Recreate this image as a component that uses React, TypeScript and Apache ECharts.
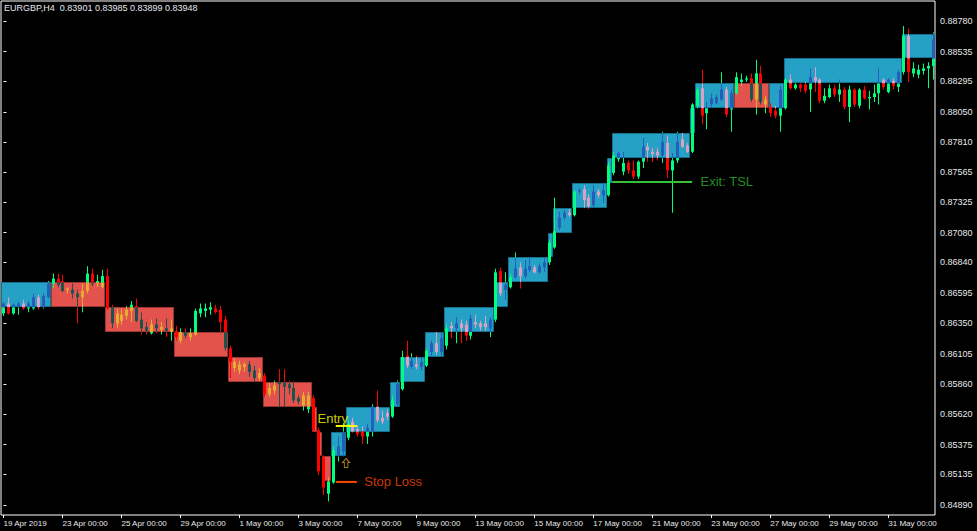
import React, { useEffect, useRef } from "react";
import * as echarts from "echarts";

const chartTitle = "EURGBP,H4  0.83901 0.83985 0.83899 0.83948";

const dateLabels = [
  "19 Apr 2019", "23 Apr 00:00", "25 Apr 00:00", "29 Apr 00:00", "1 May 00:00", "3 May 00:00",
  "7 May 00:00", "9 May 00:00", "13 May 00:00", "15 May 00:00", "17 May 00:00", "21 May 00:00",
  "23 May 00:00", "27 May 00:00", "29 May 00:00", "31 May 00:00",
];
const barsPerDateLabel = 12;

const priceLabels = [
  0.8489, 0.85135, 0.85375, 0.8562, 0.8586, 0.86105, 0.8635, 0.86595, 0.8684,
  0.8708, 0.87325, 0.87565, 0.8781, 0.8805, 0.88295, 0.88535, 0.8878,
];
const priceMin = 0.84809;
const priceMax = 0.88942;

// H4 candles, price in pips (x 0.0001): [open, close, low, high]
const candles: number[][] = [
  [8643, 8651, 8641, 8652], [8651, 8643, 8642, 8656], [8643, 8650, 8642, 8651], [8649, 8651, 8642, 8652],
  [8651, 8647, 8646, 8654], [8647, 8651, 8644, 8653], [8647, 8656, 8646, 8659], [8656, 8648, 8646, 8658],
  [8648, 8657, 8647, 8659], [8656, 8667, 8655, 8669], [8667, 8671, 8663, 8675], [8671, 8666, 8664, 8675],
  [8669, 8661, 8660, 8674], [8662, 8663, 8659, 8664], [8662, 8659, 8655, 8667], [8659, 8656, 8635, 8662],
  [8656, 8661, 8644, 8667], [8661, 8675, 8659, 8681], [8675, 8667, 8665, 8679], [8667, 8669, 8664, 8674],
  [8664, 8673, 8663, 8678], [8673, 8647, 8646, 8679], [8648, 8635, 8631, 8650], [8635, 8643, 8631, 8647],
  [8637, 8642, 8634, 8647], [8641, 8646, 8638, 8649], [8645, 8650, 8636, 8653], [8649, 8637, 8636, 8655],
  [8638, 8631, 8626, 8644], [8632, 8629, 8626, 8636], [8627, 8634, 8626, 8638], [8634, 8631, 8627, 8639],
  [8630, 8632, 8626, 8636], [8631, 8629, 8624, 8639], [8628, 8631, 8621, 8638], [8629, 8624, 8621, 8633],
  [8621, 8628, 8619, 8631], [8628, 8625, 8623, 8631], [8624, 8627, 8621, 8631], [8626, 8645, 8625, 8647],
  [8643, 8647, 8640, 8651], [8645, 8647, 8640, 8651], [8646, 8648, 8642, 8652], [8647, 8644, 8643, 8650],
  [8646, 8636, 8627, 8649], [8638, 8615, 8613, 8641], [8615, 8604, 8591, 8617], [8599, 8604, 8596, 8607],
  [8597, 8602, 8594, 8605], [8600, 8602, 8596, 8604], [8602, 8596, 8592, 8605], [8597, 8591, 8588, 8601],
  [8591, 8595, 8589, 8599], [8593, 8578, 8576, 8595], [8578, 8583, 8576, 8587], [8581, 8585, 8578, 8589],
  [8588, 8586, 8568, 8598], [8587, 8584, 8568, 8598], [8586, 8583, 8578, 8589], [8583, 8573, 8571, 8588],
  [8575, 8572, 8570, 8577], [8569, 8577, 8565, 8580], [8566, 8577, 8563, 8580], [8575, 8549, 8548, 8577],
  [8549, 8516, 8513, 8551], [8527, 8503, 8497, 8529], [8498, 8508, 8492, 8511], [8507, 8533, 8506, 8536],
  [8529, 8536, 8524, 8544], [8532, 8547, 8528, 8555], [8543, 8554, 8541, 8557], [8556, 8548, 8547, 8559],
  [8550, 8546, 8544, 8553], [8548, 8544, 8538, 8552], [8544, 8551, 8538, 8554], [8548, 8568, 8544, 8570],
  [8568, 8557, 8555, 8581], [8559, 8556, 8554, 8565], [8563, 8560, 8557, 8566], [8560, 8573, 8559, 8577],
  [8570, 8586, 8568, 8589], [8582, 8608, 8581, 8613], [8609, 8601, 8599, 8621], [8600, 8605, 8598, 8611],
  [8602, 8600, 8598, 8609], [8600, 8604, 8597, 8608], [8601, 8613, 8600, 8615], [8612, 8619, 8609, 8621],
  [8619, 8612, 8610, 8628], [8612, 8623, 8609, 8628], [8617, 8631, 8614, 8634], [8633, 8631, 8623, 8636],
  [8631, 8635, 8619, 8640], [8635, 8631, 8619, 8638], [8634, 8625, 8621, 8637], [8625, 8639, 8622, 8642],
  [8636, 8634, 8631, 8642], [8635, 8632, 8629, 8637], [8635, 8632, 8629, 8641], [8631, 8638, 8624, 8640],
  [8638, 8676, 8636, 8679], [8677, 8659, 8657, 8680], [8662, 8666, 8654, 8676], [8664, 8672, 8663, 8675],
  [8672, 8679, 8671, 8692], [8680, 8673, 8663, 8684], [8673, 8679, 8671, 8686], [8678, 8681, 8676, 8688],
  [8680, 8676, 8675, 8682], [8676, 8681, 8675, 8683], [8680, 8684, 8676, 8688], [8684, 8700, 8682, 8702],
  [8696, 8709, 8695, 8736], [8712, 8720, 8710, 8725], [8720, 8724, 8718, 8726], [8724, 8722, 8721, 8727],
  [8722, 8741, 8721, 8742], [8741, 8742, 8739, 8744], [8743, 8734, 8728, 8746], [8736, 8729, 8727, 8739],
  [8730, 8741, 8728, 8746], [8741, 8738, 8736, 8743], [8738, 8742, 8732, 8748], [8738, 8762, 8737, 8765],
  [8756, 8770, 8754, 8773], [8767, 8772, 8765, 8773], [8757, 8764, 8754, 8773], [8764, 8758, 8755, 8766],
  [8758, 8753, 8751, 8766], [8753, 8765, 8751, 8766], [8765, 8777, 8760, 8784], [8777, 8774, 8765, 8780],
  [8773, 8771, 8765, 8776], [8773, 8770, 8766, 8776], [8770, 8781, 8764, 8789], [8780, 8758, 8752, 8786],
  [8758, 8766, 8724, 8772], [8766, 8781, 8764, 8789], [8783, 8777, 8776, 8788], [8778, 8773, 8772, 8780],
  [8773, 8811, 8772, 8812], [8810, 8823, 8808, 8825], [8824, 8802, 8795, 8839], [8804, 8809, 8791, 8813],
  [8811, 8816, 8809, 8820], [8812, 8817, 8811, 8819], [8815, 8823, 8814, 8837], [8823, 8803, 8801, 8825],
  [8807, 8820, 8789, 8823], [8820, 8833, 8819, 8837], [8829, 8831, 8826, 8836], [8831, 8832, 8829, 8834],
  [8832, 8815, 8813, 8836], [8815, 8836, 8803, 8847], [8836, 8813, 8811, 8842], [8811, 8815, 8804, 8818],
  [8809, 8804, 8801, 8812], [8806, 8802, 8800, 8810], [8802, 8823, 8789, 8826], [8808, 8831, 8807, 8832],
  [8831, 8824, 8823, 8835], [8824, 8827, 8823, 8828], [8827, 8824, 8821, 8828], [8827, 8822, 8820, 8829],
  [8823, 8833, 8805, 8840], [8833, 8830, 8821, 8841], [8831, 8814, 8812, 8832], [8814, 8818, 8812, 8824],
  [8817, 8824, 8816, 8827], [8824, 8819, 8817, 8827], [8819, 8823, 8813, 8831], [8823, 8809, 8807, 8825],
  [8809, 8823, 8797, 8826], [8823, 8811, 8809, 8824], [8810, 8823, 8808, 8824], [8823, 8816, 8815, 8826],
  [8816, 8817, 8807, 8822], [8817, 8820, 8813, 8827], [8820, 8829, 8811, 8840], [8831, 8825, 8823, 8832],
  [8821, 8831, 8820, 8832], [8830, 8826, 8823, 8832], [8825, 8837, 8821, 8839], [8837, 8866, 8835, 8874],
  [8866, 8837, 8829, 8872], [8836, 8840, 8833, 8845], [8835, 8839, 8832, 8843], [8838, 8840, 8835, 8844],
  [8840, 8842, 8824, 8845], [8842, 8863, 8831, 8869],
];

// trend boxes (bar index range, lower edge in pips, 20-pip height, 1 = up / 0 = down)
const boxStart = [0, 10, 21, 35, 46, 53, 63, 64, 65, 67, 70, 79, 81, 86, 90, 100, 103, 111, 112, 116, 123, 124, 140, 141, 149, 156, 159, 183];
const boxEnd = [10, 21, 35, 46, 53, 63, 64, 65, 67, 70, 79, 81, 86, 90, 100, 103, 111, 112, 116, 123, 124, 140, 141, 149, 156, 159, 183, 190];
const boxLow = [8648, 8648, 8628, 8608, 8588, 8568, 8548, 8528, 8508, 8528, 8548, 8568, 8588, 8608, 8628, 8648, 8668, 8688, 8708, 8728, 8748, 8768, 8788, 8808, 8808, 8808, 8828, 8848];
const boxUp = [1, 0, 0, 0, 0, 0, 0, 0, 0, 1, 1, 1, 1, 1, 1, 1, 1, 1, 1, 1, 1, 1, 1, 1, 0, 1, 1, 1];
const boxHeightPips = 20;

// trade annotations (bar index, price)
const entryText = { bar: 63.8, price: 0.85581 };
const entryLine = { from: 67.6, to: 71.9, price: 0.85525 };
const stopLine = { from: 67.6, to: 71.9, price: 0.85075 };
const stopText = { bar: 73.3, price: 0.85075 };
const buyArrow = { bar: 69.7, price: 0.85227 };
const exitLine = { from: 123.8, to: 140.1, price: 0.87487 };
const exitText = { bar: 141.7, price: 0.87487 };

const BULL = "#00FF7F";
const BEAR = "#FF0000";
const BOX_UP = "#24A1C4";
const BOX_DOWN = "#E4524D";
const FONT = "Liberation Sans";

const xorHex = (a: string, b: string) => {
  const n = (parseInt(a.slice(1), 16) ^ parseInt(b.slice(1), 16)) & 0xffffff;
  return "#" + n.toString(16).padStart(6, "0");
};

const barBox: number[] = candles.map((_, i) => {
  let found = -1;
  for (let k = 0; k < boxStart.length; k++) {
    const s = boxStart[k];
    if ((i > s || (s === 0 && i >= 0)) && i < boxEnd[k]) found = k;
  }
  return found;
});

function splitRange(a: number, b: number, k: number): [number, number, boolean][] {
  if (k < 0) return [[a, b, false]];
  const lo = boxLow[k] / 1e4;
  const hi = (boxLow[k] + boxHeightPips) / 1e4;
  const out: [number, number, boolean][] = [];
  if (a < lo) out.push([a, Math.min(b, lo), false]);
  const ia = Math.max(a, lo);
  const ib = Math.min(b, hi);
  if (ib > ia || (a === b && a >= lo && a <= hi)) out.push([ia, ib, true]);
  if (b > hi) out.push([Math.max(a, hi), b, false]);
  return out;
}

export default function App() {
  const ref = useRef<HTMLDivElement>(null);

  useEffect(() => {
    if (!ref.current) return;
    const chart = echarts.init(ref.current, undefined, { renderer: "svg" });

    const candleData = candles.map((c, i) => [i, c[0] / 1e4, c[1] / 1e4, c[2] / 1e4, c[3] / 1e4]);
    const boxData = boxStart.map((s, k) => [s, boxEnd[k], boxLow[k] / 1e4, (boxLow[k] + boxHeightPips) / 1e4, boxUp[k]]);
    const dateTicks = dateLabels.map((_, k) => k * barsPerDateLabel);

    const textSeries = (p: { bar: number; price: number }, text: string, color: string) => ({
      type: "scatter",
      silent: true,
      z: 6,
      symbolSize: 1,
      itemStyle: { color: "rgba(0,0,0,0)" },
      data: [[p.bar, p.price]],
      label: {
        show: true,
        position: "right",
        distance: 0,
        formatter: text,
        color,
        fontSize: 13,
        fontFamily: FONT,
      },
    });

    const lineSeries = (l: { from: number; to: number; price: number }, color: string) => ({
      type: "line",
      silent: true,
      z: 5,
      symbol: "none",
      lineStyle: { color, width: 2 },
      data: [[l.from, l.price], [l.to, l.price]],
    });

    const option: any = {
      animation: false,
      backgroundColor: "#000000",
      grid: {
        left: 1,
        top: 1,
        width: 934,
        height: 514,
        show: true,
        borderColor: "#FFFFFF",
        borderWidth: 1,
        backgroundColor: "#000000",
        outerBoundsMode: "none",
      },
      xAxis: {
        type: "value",
        min: -0.5,
        max: candles.length - 0.5,
        splitLine: { show: false },
        axisLine: { show: false },
        axisTick: { show: true, length: 3, customValues: dateTicks, lineStyle: { color: "#FFFFFF" } },
        axisLabel: {
          customValues: dateTicks,
          formatter: (v: number) => dateLabels[Math.round(v / barsPerDateLabel)] ?? "",
          color: "#E8E8E8",
          fontSize: 8,
          fontFamily: FONT,
          align: "left",
          margin: 4,
        },
      },
      yAxis: {
        type: "value",
        position: "right",
        min: priceMin,
        max: priceMax,
        splitLine: { show: false },
        axisLine: { show: false },
        axisTick: { show: true, length: 3, customValues: priceLabels, lineStyle: { color: "#FFFFFF" } },
        axisLabel: {
          customValues: priceLabels,
          formatter: (v: number) => v.toFixed(5),
          color: "#E8E8E8",
          fontSize: 9,
          fontFamily: FONT,
          margin: 5,
        },
      },
      graphic: [
        {
          type: "text",
          left: 4,
          top: 3,
          style: { text: chartTitle, fill: "#E4E8F0", font: `9px "${FONT}"` },
        },
      ],
      series: [
        {
          type: "custom",
          z: 1,
          silent: true,
          data: boxData,
          encode: { x: [0, 1], y: [2, 3] },
          renderItem: (params: any, api: any) => {
            const s = api.value(0);
            const e = api.value(1);
            const lo = api.value(2);
            const hi = api.value(3);
            const up = api.value(4) === 1;
            const p0 = api.coord([s - 0.5, hi]);
            const p1 = api.coord([e - 0.5, lo]);
            const x0 = s === 0 ? params.coordSys.x : Math.round(p0[0] + 1);
            const x1 = Math.min(Math.round(p1[0] + 1), params.coordSys.x + params.coordSys.width);
            const y0 = Math.round(p0[1]);
            const y1 = Math.round(p1[1]);
            return {
              type: "rect",
              shape: { x: x0 + 0.5, y: y0 + 0.5, width: x1 - x0 - 1, height: y1 - y0 - 1 },
              style: {
                fill: up ? BOX_UP : BOX_DOWN,
                stroke: up ? "#16728C" : "#9A3733",
                lineWidth: 1,
              },
            };
          },
        },
        {
          type: "custom",
          z: 2,
          silent: true,
          data: candleData,
          encode: { x: 0, y: [1, 2, 3, 4] },
          renderItem: (_params: any, api: any) => {
            const i = api.value(0);
            const o = api.value(1);
            const c = api.value(2);
            const l = api.value(3);
            const h = api.value(4);
            const k = barBox[i];
            const base = c >= o ? BULL : BEAR;
            const inside = k >= 0 ? xorHex(base, boxUp[k] ? BOX_UP : BOX_DOWN) : base;
            const cx = Math.round(api.coord([i, o])[0]);
            const children: any[] = [];
            splitRange(l, h, k).forEach(([a, b, ins]) => {
              const yt = api.coord([i, b])[1];
              const yb = api.coord([i, a])[1];
              children.push({
                type: "rect",
                shape: { x: cx, y: yt, width: 1, height: Math.max(yb - yt, 0.5) },
                style: { fill: ins ? inside : base },
              });
            });
            const bLo = Math.min(o, c);
            const bHi = Math.max(o, c);
            splitRange(bLo, bHi, k).forEach(([a, b, ins]) => {
              let yt = api.coord([i, b])[1];
              let yb = api.coord([i, a])[1];
              if (yb - yt < 1) {
                const m = (yt + yb) / 2;
                yt = m - 0.5;
                yb = m + 0.5;
              }
              children.push({
                type: "rect",
                shape: { x: cx - 1, y: yt, width: 3, height: yb - yt },
                style: { fill: ins ? inside : base },
              });
            });
            return { type: "group", children };
          },
        },
        lineSeries(entryLine, "#FFFF00"),
        lineSeries(stopLine, "#FF4500"),
        lineSeries(exitLine, "#36C236"),
        textSeries(entryText, "Entry", "#FFFF00"),
        textSeries(stopText, "Stop Loss", "#FF4500"),
        textSeries(exitText, "Exit: TSL", "#2DB52D"),
        {
          type: "scatter",
          silent: true,
          z: 6,
          symbol: "path://M4,0 L8,4 L6,4 L6,9 L2,9 L2,4 L0,4 Z",
          symbolSize: [7, 9],
          itemStyle: { color: "rgba(0,0,0,0)", borderColor: "#DAA520", borderWidth: 1 },
          data: [[buyArrow.bar, buyArrow.price]],
        },
      ],
    };

    chart.setOption(option);
    return () => chart.dispose();
  }, []);

  return (
    <div
      ref={ref}
      style={{ position: "fixed", left: 0, top: 0, width: 977, height: 531, background: "#000000" }}
    />
  );
}
